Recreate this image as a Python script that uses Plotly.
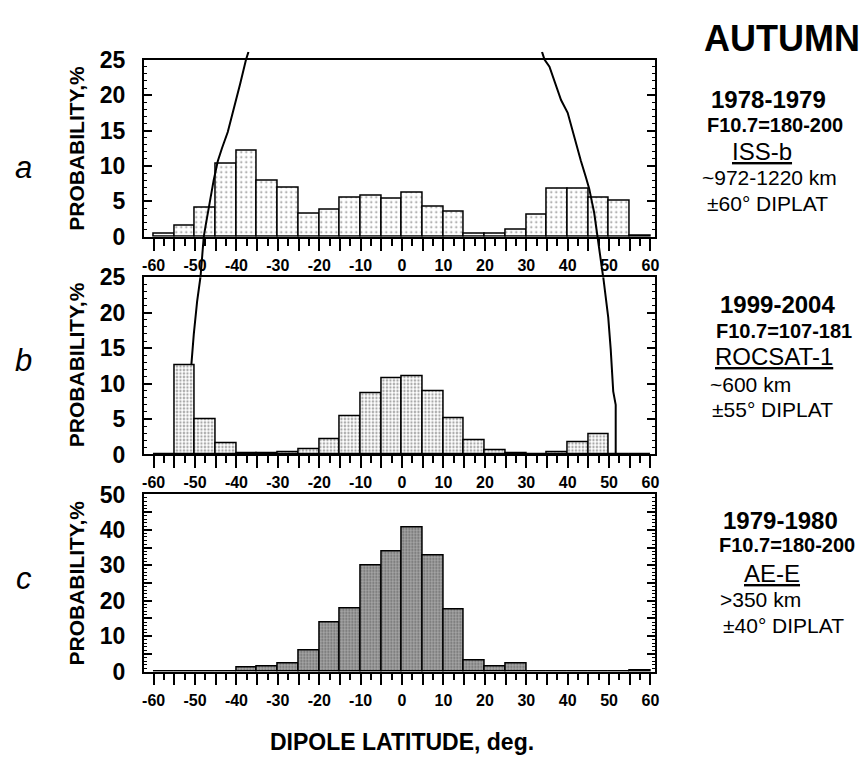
import plotly.graph_objects as go

# ---------------- data ----------------
lat_centers = [-57.5, -52.5, -47.5, -42.5, -37.5, -32.5, -27.5, -22.5, -17.5, -12.5,
               -7.5, -2.5, 2.5, 7.5, 12.5, 17.5, 22.5, 27.5, 32.5, 37.5,
               42.5, 47.5, 52.5, 57.5]

prob_issb = [0.45, 1.6, 4.1, 10.3, 12.1, 8.0, 7.0, 3.3, 3.8, 5.6,
             5.8, 5.4, 6.3, 4.3, 3.5, 0.45, 0.45, 1.0, 3.1, 6.8,
             6.8, 5.6, 5.1, 0.1]

prob_rocsat = [0.0, 12.6, 4.95, 1.55, 0.15, 0.15, 0.35, 0.7, 2.2, 5.45,
               8.7, 10.8, 11.05, 8.85, 5.1, 2.0, 0.55, 0.2, 0.0, 0.35,
               1.7, 2.8, 0.0, 0.0]

prob_aee = [0.0, 0.0, 0.0, 0.0, 1.1, 1.45, 2.45, 6.0, 13.9, 17.9,
            30.0, 33.9, 40.8, 32.9, 17.5, 3.2, 1.5, 2.3, 0.0, 0.0,
            0.0, 0.0, 0.0, 0.3]

# boundary curves (panel a extends below its axis, panel b continues it)
curve_a_left_x = [-37.1, -37.7, -39.1, -40.3, -42.1, -43.5, -44.5, -45.5, -46.7, -47.5, -47.9, -48.7]
curve_a_left_y = [26.1, 25.0, 21.6, 18.9, 14.8, 12.5, 10.7, 8.0, 4.3, 1.4, 0.0, -5.8]
curve_a_right_x = [33.8, 34.4, 35.6, 36.8, 38.4, 40.0, 40.8, 42.0, 43.2, 44.4, 45.2, 46.4, 47.2, 48.6]
curve_a_right_y = [26.1, 25.0, 24.0, 22.0, 19.3, 17.5, 15.7, 13.4, 10.7, 8.4, 6.8, 3.4, 0.0, -5.8]
curve_b_left_x = [-48.7, -49.5, -50.3, -50.9]
curve_b_left_y = [25.0, 21.6, 17.0, 12.6]
curve_b_right_x = [48.6, 49.8, 50.4, 51.0, 51.6, 51.6]
curve_b_right_y = [25.0, 19.3, 14.8, 8.9, 7.0, 0.0]

x_tickvals = [-60, -55, -50, -45, -40, -35, -30, -25, -20, -15, -10, -5, 0,
              5, 10, 15, 20, 25, 30, 35, 40, 45, 50, 55, 60]
x_ticktext = ["-60", "", "-50", "", "-40", "", "-30", "", "-20", "", "-10", "", "0",
              "", "10", "", "20", "", "30", "", "40", "", "50", "", "60"]
y_ticks_ab = [0, 5, 10, 15, 20, 25]
y_ticks_c = [0, 5, 10, 15, 20, 25, 30, 35, 40, 45, 50]
y_text_c = ["0", "", "10", "", "20", "", "30", "", "40", "", "50"]

panel_letters = ["a", "b", "c"]
panel_info = [
    ["1978-1979", "F10.7=180-200", "ISS-b", "~972-1220 km", "±60° DIPLAT"],
    ["1999-2004", "F10.7=107-181", "ROCSAT-1", "~600 km", "±55° DIPLAT"],
    ["1979-1980", "F10.7=180-200", "AE-E", ">350 km", "±40° DIPLAT"],
]

# ---------------- layout geometry (pixels) ----------------
W, H = 868, 769
X0, X1 = 142.7, 658.0
TOPS = [48.3, 273.5, 498.3]
PH = 183.4
XR = [-62.4, 61.2]
FONT = "Liberation Sans, Arial, sans-serif"


def px(x):
    return x / W


def py(y):
    return 1 - y / H


fig = go.Figure()

patterns = [
    dict(shape=".", fgcolor="#1a1a1a", bgcolor="white", size=5, solidity=0.13),
    dict(shape=".", fgcolor="#555555", bgcolor="white", size=3.5, solidity=0.38),
    dict(shape=".", fgcolor="#1e1e1e", bgcolor="#a8a8a8", size=3, solidity=0.35),
]
series = [prob_issb, prob_rocsat, prob_aee]
suffix = ["", "2", "3"]

for i in range(3):
    fig.add_trace(go.Bar(
        x=lat_centers, y=series[i], width=5,
        marker=dict(color=patterns[i]["bgcolor"], pattern=patterns[i],
                    line=dict(color="black", width=1.5)),
        xaxis="x" + suffix[i], yaxis="y" + suffix[i], showlegend=False,
    ))

# curves on hidden overlay axes that extend past the panels
curve_sets = [
    (curve_a_left_x, curve_a_left_y, "x4", "y4"),
    (curve_a_right_x, curve_a_right_y, "x4", "y4"),
    (curve_b_left_x, curve_b_left_y, "x5", "y5"),
    (curve_b_right_x, curve_b_right_y, "x5", "y5"),
]
for cx, cy, xa, ya in curve_sets:
    fig.add_trace(go.Scatter(x=cx, y=cy, mode="lines",
                             line=dict(color="black", width=2),
                             xaxis=xa, yaxis=ya, showlegend=False))

layout = dict(
    width=W, height=H, margin=dict(l=0, r=0, t=0, b=0),
    paper_bgcolor="white", plot_bgcolor="rgba(0,0,0,0)",
    bargap=0, showlegend=False,
    font=dict(family=FONT, color="black"),
)

for i in range(3):
    top = TOPS[i]
    bot = top + PH
    xkey = "xaxis" + suffix[i]
    ykey = "yaxis" + suffix[i]
    layout[xkey] = dict(
        domain=[px(X0), px(X1)], range=XR, anchor="y" + suffix[i],
        tickmode="array", tickvals=x_tickvals, ticktext=x_ticktext,
        ticks="outside", ticklen=12, tickwidth=1.5, tickcolor="black",
        minor=dict(dtick=2.5, tick0=0, ticks="outside", ticklen=7,
                   tickwidth=1.5, tickcolor="black"),
        showline=True, linecolor="black", linewidth=1.5, mirror=True,
        showgrid=False, zeroline=False,
        tickfont=dict(family=FONT, size=16, color="black", weight="bold"),
        ticklabelstandoff=1,
    )
    if i < 2:
        yr, tv, tt, mdt = [0, 25], y_ticks_ab, [str(v) for v in y_ticks_ab], 1
    else:
        yr, tv, tt, mdt = [0, 50], y_ticks_c, y_text_c, 1
    layout[ykey] = dict(
        domain=[py(bot), py(top)], range=yr, anchor="x" + suffix[i],
        tickmode="array", tickvals=tv, ticktext=tt,
        ticks="inside", ticklen=9, tickwidth=1.5, tickcolor="black",
        minor=dict(dtick=mdt, tick0=0, ticks="inside", ticklen=4,
                   tickwidth=1, tickcolor="black"),
        showline=True, linecolor="black", linewidth=1.5, mirror="ticks",
        showgrid=False, zeroline=False,
        tickfont=dict(family=FONT, size=23, color="black", weight="bold"),
        ticklabelstandoff=12,
    )

# hidden axes for the boundary curves
pxu = PH / 25.0  # pixels per % in panels a and b
a_bot = TOPS[0] + PH
ext_top = 40.0
layout["xaxis4"] = dict(domain=[px(X0), px(X1)], range=XR, anchor="y4", visible=False)
layout["yaxis4"] = dict(domain=[py(TOPS[1]), py(ext_top)],
                        range=[(a_bot - TOPS[1]) / pxu, (a_bot - ext_top) / pxu],
                        anchor="x4", visible=False)
layout["xaxis5"] = dict(domain=[px(X0), px(X1)], range=XR, anchor="y5", visible=False)
layout["yaxis5"] = dict(domain=[py(TOPS[1] + PH), py(TOPS[1])], range=[0, 25],
                        anchor="x5", visible=False)

ann = []
# panel letters
letter_y = [160, 360, 585]
for i in range(3):
    ann.append(dict(text=panel_letters[i], x=px(22), y=py(letter_y[i]),
                    font=dict(size=31, style="italic", family=FONT)))
# y titles
title_y = [140, 364, 590]
for i in range(3):
    ann.append(dict(text="<b>PROBABILITY,%</b>", x=px(75), y=py(title_y[i]),
                    textangle=-90, font=dict(size=21, family=FONT)))
# x title
ann.append(dict(text="<b>DIPOLE LATITUDE, deg.</b>", x=px(403), y=py(755),
                font=dict(size=23, family=FONT)))
# season
ann.append(dict(text="<b>AUTUMN</b>", x=px(785), y=py(26),
                font=dict(size=36, family=FONT)))

# right-hand info blocks: (x centre, y centre) per line
info_pos = [
    [(772, 90), (778, 116), (765, 143), (773, 170), (771, 197)],
    [(781, 302), (787, 329), (777, 356), (754, 385), (776, 410)],
    [(784, 525), (790, 551), (775, 580), (764, 607), (787, 634)],
]
for i in range(3):
    lines = panel_info[i]
    pos = info_pos[i]
    txts = ["<b>" + lines[0] + "</b>", "<b>" + lines[1] + "</b>",
            "<u>" + lines[2] + "</u>", lines[3], lines[4]]
    sizes = [24, 20, 24, 21, 21]
    for t, (xx, yy), s in zip(txts, pos, sizes):
        ann.append(dict(text=t, x=px(xx), y=py(yy), font=dict(size=s, family=FONT)))

for a in ann:
    a.update(xref="paper", yref="paper", showarrow=False,
             xanchor="center", yanchor="middle")
layout["annotations"] = ann

fig.update_layout(**layout)

fig.write_html("out.html", config={"displayModeBar": False},
               post_script="document.body.style.margin='0';document.body.style.overflow='hidden';")
